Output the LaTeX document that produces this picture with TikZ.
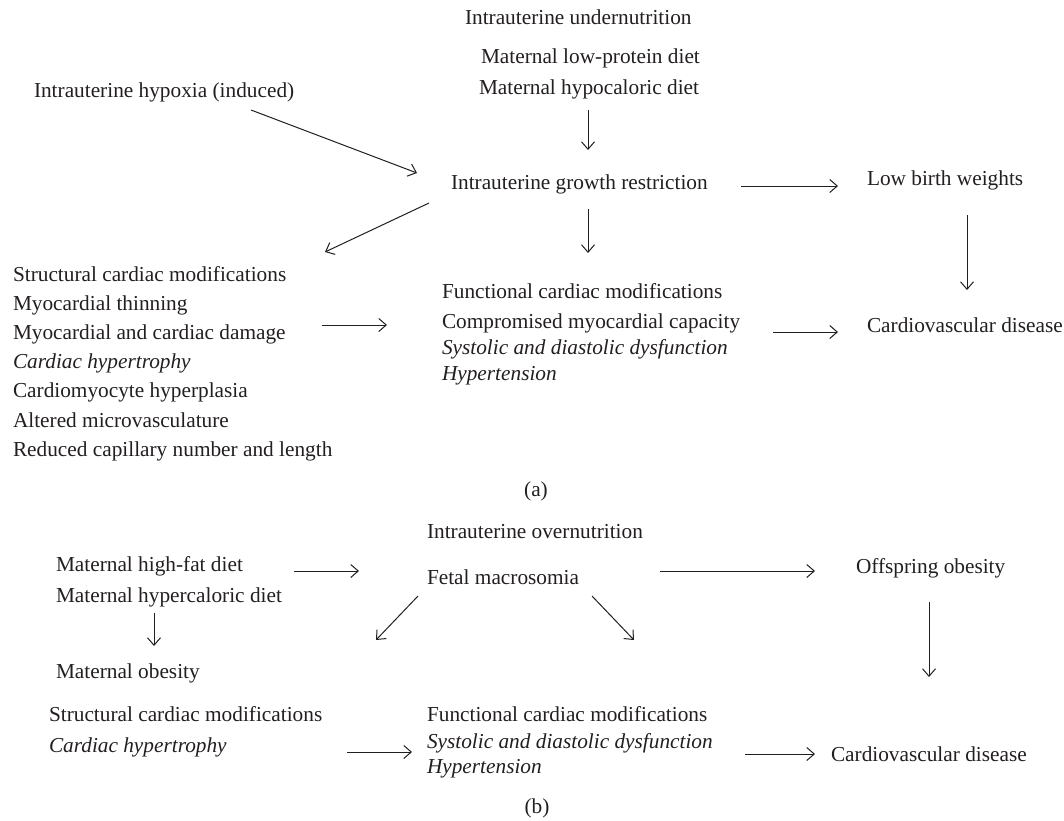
\documentclass[tikz,border=0pt]{standalone}
\usepackage{fontspec}
\setmainfont{Liberation Serif}
\usetikzlibrary{arrows.meta,calc}
\definecolor{ink}{HTML}{231F20}
\tikzset{
  lbl/.style={anchor=base west,inner sep=0pt,outer sep=0pt,text=ink,font=\fontsize{21.3}{26}\selectfont},
  ilbl/.style={lbl,font=\fontsize{21.3}{26}\selectfont\itshape},
  caplbl/.style={anchor=base,inner sep=0pt,outer sep=0pt,text=ink,font=\fontsize{21.3}{26}\selectfont},
  arr/.style={draw=ink,line width=1pt,-{Straight Barb[length=7.5pt,width=13pt,line width=1pt]}}
}
\begin{document}
\begin{tikzpicture}[x=1pt,y=-1pt]
\useasboundingbox[fill=white] (0,0) rectangle (1064,820);
% ---------- (a) ----------
\node[lbl] (un)  at (465,24)  {Intrauterine undernutrition};
\node[lbl] (lp)  at (481,63)  {Maternal low-protein diet};
\node[lbl] (hc)  at (479,94)  {Maternal hypocaloric diet};
\node[lbl] (hyp) at (34,97)   {Intrauterine hypoxia (induced)};
\node[lbl] (igr) at (451,189) {Intrauterine growth restriction};
\node[lbl] (lbw) at (867,185) {Low birth weights};
\node[lbl] (cvd) at (867,332) {Cardiovascular disease};
\node[lbl]  (s1) at (13,281) {Structural cardiac modifications};
\node[lbl]  (s2) at (13,310) {Myocardial thinning};
\node[lbl]  (s3) at (13,339) {Myocardial and cardiac damage};
\node[ilbl] (s4) at (13,368) {Cardiac hypertrophy};
\node[lbl]  (s5) at (13,397) {Cardiomyocyte hyperplasia};
\node[lbl]  (s6) at (13,427) {Altered microvasculature};
\node[lbl]  (s7) at (13,456) {Reduced capillary number and length};
\node[lbl]  (f1) at (442,298) {Functional cardiac modifications};
\node[lbl]  (f2) at (442,328) {Compromised myocardial capacity};
\node[ilbl] (f3) at (442,354) {Systolic and diastolic dysfunction};
\node[ilbl] (f4) at (442,380) {Hypertension};
\node[caplbl] (capa) at (536,496) {(a)};
\draw[arr] ($(hc.base west)+(109,16)$) -- ($(igr.base west)+(137,-39)$);
\draw[arr] ($(hyp.base west)+(217,13)$) -- ($(igr.base west)+(-34,-16)$);
\draw[arr] ($(igr.base west)+(290,-3)$) -- ($(lbw.base west)+(-29,1)$);
\draw[arr] ($(lbw.base west)+(100,30)$) -- ($(cvd.base west)+(100,-42)$);
\draw[arr] ($(igr.base west)+(-22,14)$) -- ($(s1.base west)+(312,-29)$);
\draw[arr] ($(igr.base west)+(137,20)$) -- ($(f1.base west)+(146,-45)$);
\draw[arr] ($(s3.base west)+(309,-14)$) -- ($(f2.base west)+(-55,-3)$);
\draw[arr] ($(f2.base west)+(331,4)$) -- ($(cvd.base west)+(-29,0)$);
% ---------- (b) ----------
\node[lbl] (on)  at (427,538) {Intrauterine overnutrition};
\node[lbl] (hf)  at (56,571)  {Maternal high-fat diet};
\node[lbl] (hyc) at (56,602)  {Maternal hypercaloric diet};
\node[lbl] (fm)  at (427,584) {Fetal macrosomia};
\node[lbl] (ob)  at (856,573) {Offspring obesity};
\node[lbl] (mo)  at (56,678)  {Maternal obesity};
\node[lbl]  (bs1) at (49,721) {Structural cardiac modifications};
\node[ilbl] (bs2) at (49,752) {Cardiac hypertrophy};
\node[lbl]  (bf1) at (427,721) {Functional cardiac modifications};
\node[ilbl] (bf2) at (427,748) {Systolic and diastolic dysfunction};
\node[ilbl] (bf3) at (427,773) {Hypertension};
\node[lbl] (bcvd) at (831,761) {Cardiovascular disease};
\node[caplbl] (capb) at (537,813) {(b)};
\draw[arr] ($(hf.base west)+(238,0)$) -- ($(fm.base west)+(-68,-13)$);
\draw[arr] ($(fm.base west)+(233,-13)$) -- ($(ob.base west)+(-41,-2)$);
\draw[arr] ($(ob.base west)+(73,29)$) -- ($(bcvd.base west)+(98,-84)$);
\draw[arr] ($(hyc.base west)+(98,11)$) -- ($(mo.base west)+(98,-32)$);
\draw[arr] ($(fm.base west)+(-9,12)$) -- ($(bs1.base west)+(327,-81)$);
\draw[arr] ($(fm.base west)+(165,12)$) -- ($(bf1.base west)+(207,-81)$);
\draw[arr] ($(bs2.base west)+(298,0)$) -- ($(bf2.base west)+(-15,4)$);
\draw[arr] ($(bf2.base west)+(318,6)$) -- ($(bcvd.base west)+(-16,-7)$);
\end{tikzpicture}
\end{document}
